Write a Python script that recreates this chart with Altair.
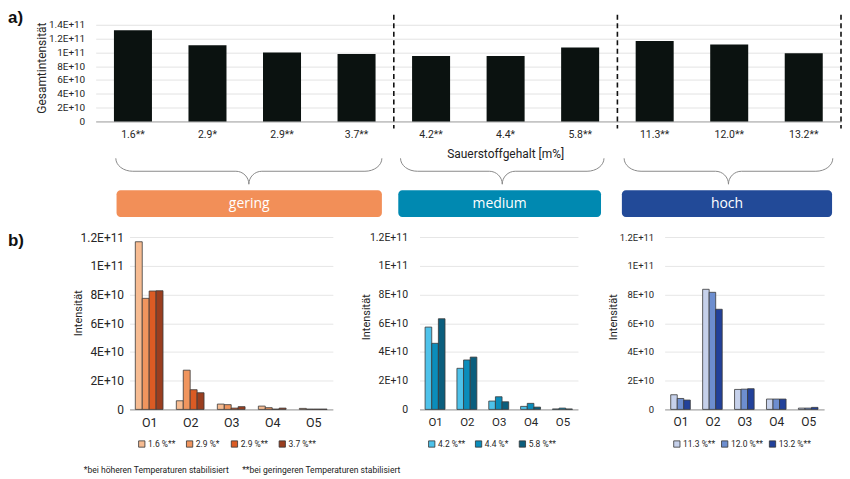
import altair as alt
import pandas as pd
import numpy as np
import json

FONT = "Roboto"
BOXFONT = "Open Sans"

# ---------------- data ----------------
top_labels = ["1.6**", "2.9*", "2.9**", "3.7**", "4.2**", "4.4*", "5.8**", "11.3**", "12.0**", "13.2**"]
top_values = [1.32e11, 1.105e11, 1.0e11, 0.977e11, 0.948e11, 0.948e11, 1.072e11, 1.165e11, 1.116e11, 0.986e11]

groups = ["gering", "medium", "hoch"]
group_colors = ["#F28F58", "#0089B1", "#224A98"]
boundaries = [4, 7, 10]

peaks = ["O1", "O2", "O3", "O4", "O5"]

low_series = ["1.6 %**", "2.9 %*", "2.9 %**", "3.7 %**"]
low_colors = ["#F7BC92", "#F0955E", "#DB5B24", "#9A3E1F"]
low_16 = [11.67e10, 0.60e10, 0.37e10, 0.23e10, 0.07e10]
low_29a = [7.73e10, 2.73e10, 0.33e10, 0.12e10, 0.02e10]
low_29b = [8.24e10, 1.37e10, 0.09e10, 0.02e10, 0.02e10]
low_37 = [8.26e10, 1.16e10, 0.19e10, 0.09e10, 0.02e10]

mid_series = ["4.2 %**", "4.4 %*", "5.8 %**"]
mid_colors = ["#4EC2EA", "#0B8DBB", "#0B5E7D"]
mid_42 = [5.73e10, 2.86e10, 0.58e10, 0.21e10, 0.03e10]
mid_44 = [4.60e10, 3.44e10, 0.88e10, 0.42e10, 0.09e10]
mid_58 = [6.31e10, 3.64e10, 0.53e10, 0.16e10, 0.03e10]

high_series = ["11.3 %**", "12.0 %**", "13.2 %**"]
high_colors = ["#C6D1EB", "#6D8ECF", "#22419A"]
high_113 = [1.02e10, 8.36e10, 1.39e10, 0.72e10, 0.09e10]
high_120 = [0.76e10, 8.15e10, 1.41e10, 0.72e10, 0.09e10]
high_132 = [0.65e10, 6.97e10, 1.44e10, 0.72e10, 0.14e10]

footnote1 = "*bei höheren Temperaturen stabilisiert"
footnote2 = "**bei geringeren Temperaturen stabilisiert"

# ---------------- layout constants ----------------
TOP_W, TOP_H = 748, 97
STEP = TOP_W / 10.0
brace_spans = [(0.27, 3.84), (4.09, 6.82), (7.09, 9.89)]
box_spans = [(0.28, 3.84), (4.06, 6.78), (7.06, 9.88)]

EXPR = "datum.value == 0 ? '0' : replace(format(datum.value, '.2~e'), 'e', 'E')"
PEAK_EXPR = json.dumps(peaks) + "[datum.value]"
qx = alt.Scale(domain=[0, 10], nice=False, zero=False)

# ---------------- top chart ----------------
top_df = pd.DataFrame({"label": top_labels, "value": top_values})

bars_top = alt.Chart(top_df).mark_bar(color="#0b1210").encode(
    x=alt.X("label:N", sort=top_labels,
            scale=alt.Scale(paddingInner=0.49, paddingOuter=0.245),
            axis=alt.Axis(title=None, labelAngle=0, labelFontSize=10.5, labelPadding=8,
                          ticks=False, domainColor="#a6a6a6", labelFont=FONT)),
    y=alt.Y("value:Q", scale=alt.Scale(domain=[0, 1.4e11], nice=False),
            axis=alt.Axis(title="Gesamtintensität", values=[i * 2e10 for i in range(8)],
                          labelExpr=EXPR, grid=True, gridColor="#e3e3e3", domain=False,
                          ticks=False, labelPadding=11, titleX=-47, titleY=43,
                          titleFontSize=12, titleFontWeight="normal", labelFontSize=10,
                          labelFont=FONT, titleFont=FONT)),
)

rules = alt.Chart(pd.DataFrame({"b": boundaries})).mark_rule(
    color="#111111", strokeDash=[5, 3.5], strokeWidth=1.6
).encode(x=alt.X("b:Q", scale=qx, axis=None), y=alt.value(-10), y2=alt.value(104))

# brace shapes (decoration geometry)
rows = []
t = np.linspace(0, np.pi / 2, 9)
y0, y1, y2 = 134, 147, 160
rx, rx2 = 17 / STEP, 13 / STEP
for g, (xl, xr) in zip(groups, brace_spans):
    xm = (xl + xr) / 2
    pts = []
    pts += [(xl + rx * (1 - np.cos(a)), y0 + (y1 - y0) * np.sin(a)) for a in t]
    pts += [(xm - rx2 * (1 - np.sin(a)), y1 + (y2 - y1) * (1 - np.cos(a))) for a in t]
    pts += [(xm + rx2 * (1 - np.sin(a)), y1 + (y2 - y1) * (1 - np.cos(a))) for a in t[::-1]]
    pts += [(xr - rx * (1 - np.cos(a)), y0 + (y1 - y0) * np.sin(a)) for a in t[::-1]]
    for i, (px, py) in enumerate(pts):
        rows.append({"g": g, "i": i, "x": px, "y": py})
brace_df = pd.DataFrame(rows)

braces = alt.Chart(brace_df).mark_line(color="#8a8a8a", strokeWidth=1).encode(
    x=alt.X("x:Q", scale=qx, axis=None),
    y=alt.Y("y:Q", scale=None),
    detail="g:N",
    order="i:Q",
)

box_df = pd.DataFrame({
    "g": groups,
    "x0": [s[0] for s in box_spans],
    "x1": [s[1] for s in box_spans],
    "xc": [(s[0] + s[1]) / 2 for s in box_spans],
})
boxes = alt.Chart(box_df).mark_rect(cornerRadius=4).encode(
    x=alt.X("x0:Q", scale=qx, axis=None),
    x2="x1:Q",
    y=alt.value(166),
    y2=alt.value(193),
    color=alt.Color("g:N", scale=alt.Scale(domain=groups, range=group_colors), legend=None),
)
box_text = alt.Chart(box_df).mark_text(color="white", fontSize=14, font=BOXFONT).encode(
    x=alt.X("xc:Q", scale=qx, axis=None),
    y=alt.value(180),
    text="g:N",
)
xtitle = alt.Chart(pd.DataFrame({"t": ["Sauerstoffgehalt [m%]"], "xc": [5.5]})).mark_text(
    fontSize=12, font=FONT, color="#222222"
).encode(x=alt.X("xc:Q", scale=qx, axis=None), y=alt.value(130), text="t:N")

a_label = alt.Chart(pd.DataFrame({"t": ["a)"]})).mark_text(
    fontSize=17, fontWeight="bold", font="Liberation Sans", align="left", baseline="top", color="#111"
).encode(x=alt.value(-88), y=alt.value(-15), text="t:N")

top = alt.layer(bars_top, rules, braces, boxes, box_text, xtitle, a_label).resolve_scale(
    x="independent"
).properties(width=TOP_W, height=TOP_H)


# ---------------- bottom panels ----------------
def panel(series, value_lists, colors, width, pi, po, fs_y, fs_x, fs_leg,
          lab_pad, title_x, title_y, leg_x, col_pad):
    k = len(series)
    gw = 1 - pi
    bw = gw / k
    recs = []
    for j, (s, vals) in enumerate(zip(series, value_lists)):
        for i, (p, v) in enumerate(zip(peaks, vals)):
            x0 = i - gw / 2 + j * bw
            recs.append({"peak": p, "series": s, "value": v, "x0": x0, "x1": x0 + bw})
    df = pd.DataFrame(recs)
    dom = [-gw / 2 - po, len(peaks) - 1 + gw / 2 + po]
    return alt.Chart(df).mark_bar(stroke="#3a3a3a", strokeWidth=0.8).encode(
        x=alt.X("x0:Q", scale=alt.Scale(domain=dom, nice=False, zero=False),
                axis=alt.Axis(title=None, values=list(range(len(peaks))), labelExpr=PEAK_EXPR,
                              grid=False, labelAngle=0, ticks=False, domainColor="#9a9a9a",
                              labelFontSize=fs_x, labelPadding=7, labelFont=FONT,
                              labelFlush=False, labelOverlap=False)),
        x2="x1:Q",
        y=alt.Y("value:Q", scale=alt.Scale(domain=[0, 1.2e11], nice=False, padding=0),
                axis=alt.Axis(title="Intensität", values=[i * 2e10 for i in range(7)],
                              labelExpr=EXPR, grid=True, gridColor="#e6e6e6", domain=False,
                              ticks=False, labelPadding=lab_pad, titleX=title_x, titleY=title_y,
                              labelFontSize=fs_y, titleFontSize=11, titleFontWeight="normal",
                              labelFont=FONT, titleFont=FONT)),
        y2=alt.datum(0),
        color=alt.Color("series:N", sort=series, scale=alt.Scale(domain=series, range=colors),
                        legend=alt.Legend(title=None, orient="none", legendX=leg_x, legendY=203,
                                          direction="horizontal", symbolType="square",
                                          symbolSize=40, symbolStrokeColor="#333333",
                                          symbolStrokeWidth=0.8, labelFontSize=fs_leg,
                                          labelFont=FONT, columnPadding=col_pad, labelOffset=2,
                                          padding=0)),
    ).properties(width=width, height=173)


left_bars = panel(low_series, [low_16, low_29a, low_29b, low_37], low_colors, 204, 0.324, 0.14,
                  12, 12.5, 8.5, 6, -46, 76, 8, 9)
mid = panel(mid_series, [mid_42, mid_44, mid_58], mid_colors, 159, 0.374, 0.175,
            10.5, 11.5, 8.5, 12, -48, 80, 8, 8)
right = panel(high_series, [high_113, high_120, high_132], high_colors, 160, 0.386, 0.19,
              9.5, 12, 8.5, 11, -46.5, 80, 8, 4)

fn1 = alt.Chart(pd.DataFrame({"t": [footnote1]})).mark_text(
    fontSize=8.6, font=FONT, align="left", color="#222222"
).encode(x=alt.value(-46), y=alt.value(234), text="t:N")
fn2 = alt.Chart(pd.DataFrame({"t": [footnote2]})).mark_text(
    fontSize=8.6, font=FONT, align="left", color="#222222"
).encode(x=alt.value(113), y=alt.value(234), text="t:N")
b_label = alt.Chart(pd.DataFrame({"t": ["b)"]})).mark_text(
    fontSize=17, fontWeight="bold", font="Liberation Sans", align="left", baseline="top", color="#111"
).encode(x=alt.value(-122), y=alt.value(-4), text="t:N")

left = alt.layer(left_bars, fn1, fn2, b_label).properties(width=204, height=173)

spacer = alt.Chart(pd.DataFrame({"v": [0]})).mark_point(opacity=0).encode(
    x=alt.X("v:Q", axis=None), y=alt.Y("v:Q", axis=None)
).properties(width=14, height=173)

inner = alt.hconcat(left, mid, right, spacing=87, bounds="flush").resolve_scale(
    color="independent", x="independent", y="independent"
)
bottom = alt.hconcat(spacer, inner, spacing=20, bounds="flush").resolve_scale(
    color="independent", x="independent", y="independent"
)

chart = alt.vconcat(top, bottom, spacing=116, bounds="flush").resolve_scale(
    color="independent", x="independent", y="independent"
).properties(padding=0).configure_view(stroke=None).configure_axis(
    labelColor="#262626", titleColor="#262626"
).configure_legend(labelColor="#262626")

chart.save("out.html", embed_options={"renderer": "svg", "actions": False})
